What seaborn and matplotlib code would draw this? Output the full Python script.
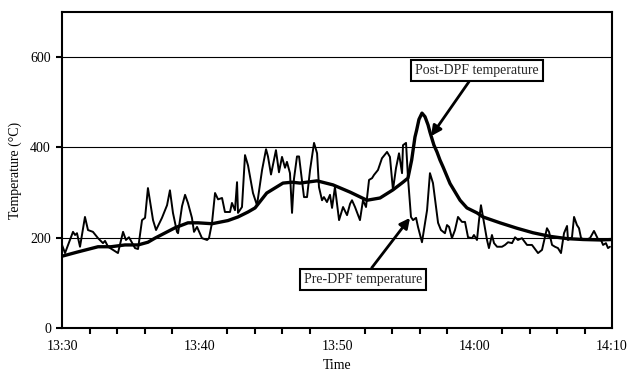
import matplotlib
matplotlib.use("Agg")
import matplotlib.pyplot as plt
from matplotlib.ticker import MultipleLocator
import numpy as np
import pandas as pd
import seaborn as sns

# ---- data (minutes after 13:30, temperature in °C) ----
pre_time = [0.00, 0.22, 0.80, 0.95, 1.09, 1.31, 1.67, 1.89, 2.25, 2.62,
            2.98, 3.13, 3.35, 4.07, 4.44, 4.65, 4.87, 5.31, 5.53, 5.82,
            6.04, 6.25, 6.62, 6.84, 7.27, 7.64, 7.85, 8.07, 8.36, 8.44,
            8.73, 8.95, 9.16, 9.45, 9.60, 9.82, 10.18, 10.55, 10.69, 10.91,
            11.13, 11.35, 11.64, 11.85, 12.22, 12.36, 12.58, 12.73, 12.80, 13.09,
            13.31, 13.53, 13.89, 14.18, 14.55, 14.84, 14.98, 15.20, 15.56, 15.78,
            16.00, 16.22, 16.36, 16.58, 16.73, 16.87, 17.09, 17.24, 17.60, 17.82,
            18.04, 18.33, 18.55, 18.69, 18.91, 19.05, 19.27, 19.49, 19.64, 19.85,
            20.15, 20.44, 20.73, 20.95, 21.09, 21.31, 21.67, 21.89, 22.11, 22.33,
            22.55, 22.69, 22.98, 23.27, 23.64, 23.85, 24.07, 24.29, 24.51, 24.73,
            24.80, 25.02, 25.16, 25.38, 25.53, 25.75, 25.89, 26.18, 26.55, 26.76,
            26.98, 27.35, 27.56, 27.85, 28.00, 28.15, 28.36, 28.58, 28.80, 29.09,
            29.31, 29.53, 29.82, 29.96, 30.18, 30.33, 30.47, 30.62, 30.91, 31.05,
            31.27, 31.42, 31.64, 32.00, 32.22, 32.44, 32.73, 32.95, 33.16, 33.45,
            33.82, 34.18, 34.62, 34.91, 35.27, 35.42, 35.64, 35.85, 36.07, 36.29,
            36.51, 36.73, 36.80, 37.09, 37.24, 37.45, 37.60, 37.75, 38.04, 38.40,
            38.69, 38.98, 39.20, 39.35, 39.56, 39.71, 39.85]
pre_temp = [184, 166, 213, 206, 210, 180, 246, 217, 213, 199,
            188, 193, 180, 166, 213, 195, 201, 177, 175, 239,
            244, 310, 239, 217, 244, 272, 305, 255, 213, 210,
            270, 295, 277, 244, 213, 224, 199, 195, 199, 233,
            299, 285, 288, 257, 257, 277, 261, 323, 255, 268,
            383, 360, 299, 272, 350, 396, 380, 340, 394, 345,
            379, 355, 368, 343, 255, 330, 380, 380, 290, 290,
            350, 410, 387, 312, 283, 290, 279, 295, 266, 312,
            239, 268, 250, 275, 283, 268, 239, 283, 268, 328,
            332, 339, 350, 376, 390, 379, 306, 354, 387, 343,
            405, 410, 334, 246, 239, 244, 224, 190, 261, 343,
            321, 233, 217, 210, 228, 224, 199, 217, 246, 235,
            235, 201, 199, 206, 195, 239, 272, 246, 195, 177,
            206, 188, 180, 180, 184, 190, 188, 201, 195, 199,
            184, 184, 166, 173, 221, 213, 184, 180, 177, 166,
            210, 226, 195, 201, 246, 228, 221, 199, 195, 199,
            215, 197, 195, 184, 188, 177, 180]

post_time = [0, 1.09, 2.62, 3.56, 4.58, 5.53, 6.25, 6.76, 8.22, 9.16,
             9.89, 10.91, 12.07, 12.80, 13.53, 14.04, 14.89, 16.07, 16.73, 17.31,
             18.55, 19.71, 20.95, 22.18, 23.13, 24.07, 24.80, 25.16, 25.43, 25.67,
             25.79, 25.96, 26.18, 26.40, 26.62, 26.76, 27.05, 27.27, 27.49, 27.71,
             28.22, 28.95, 29.45, 30.18, 30.62, 31.85, 33.09, 34.25, 35.49, 36.73,
             37.89, 39.13, 40.00]
post_temp = [159, 168, 180, 180, 184, 184, 190, 199, 222, 233,
             233, 231, 238, 246, 257, 266, 299, 321, 323, 321,
             326, 317, 301, 283, 288, 306, 323, 332, 372, 423,
             438, 462, 476, 468, 450, 434, 405, 390, 372, 357,
             320, 283, 266, 255, 246, 233, 221, 211, 203, 198,
             196, 195, 196]

x_tick_pos = [0, 10, 20, 30, 40]
x_tick_labels = ["13:30", "13:40", "13:50", "14:00", "14:10"]
y_ticks = [0, 200, 400, 600]

pre_df = pd.DataFrame({"time": pre_time, "temp": pre_temp})
post_df = pd.DataFrame({"time": post_time, "temp": post_temp})

# ---- style ----
sns.set_theme(style="white")
plt.rcParams["font.family"] = ["Liberation Serif", "DejaVu Serif"]
plt.rcParams["axes.edgecolor"] = "black"

fig = plt.figure(figsize=(6.37, 3.74), dpi=100)
ax = fig.add_axes([62 / 637, 1 - 328 / 374, 550 / 637, 316 / 374])

for y in [200, 400, 600]:
    ax.axhline(y, color="black", lw=0.8, zorder=1)

sns.lineplot(data=pre_df, x="time", y="temp", ax=ax, color="black",
             lw=1.4, estimator=None, sort=False, zorder=3)
sns.lineplot(data=post_df, x="time", y="temp", ax=ax, color="black",
             lw=2.4, estimator=None, sort=False, zorder=4)

ax.set_xlim(0, 40)
ax.set_ylim(0, 700)
ax.set_xticks(x_tick_pos)
ax.set_xticklabels(x_tick_labels)
ax.xaxis.set_minor_locator(MultipleLocator(2))
ax.set_yticks(y_ticks)

ax.tick_params(axis="both", which="both", direction="out", color="black",
               labelsize=10, labelcolor="black")
ax.tick_params(axis="x", which="major", length=4, width=1.5, pad=5)
ax.tick_params(axis="x", which="minor", length=4, width=1.5, bottom=True)
ax.tick_params(axis="y", which="major", length=4, width=1.5, pad=4, left=True)

for side in ["left", "bottom", "top", "right"]:
    ax.spines[side].set_linewidth(1.5)
    ax.spines[side].set_color("black")

ax.set_xlabel("Time", fontsize=10, color="black", labelpad=4)
ax.set_ylabel("Temperature (°C)", fontsize=10, color="black", labelpad=6)

box = dict(boxstyle="square,pad=0.3", fc="white", ec="black", lw=1.5)
arrow = dict(arrowstyle="-|>", lw=2, color="black", mutation_scale=15,
             shrinkA=0, shrinkB=0)
ax.annotate("Post-DPF temperature", xy=(26.84, 425), xytext=(30.18, 571),
            textcoords="data", ha="center", va="center", fontsize=10,
            bbox=box, arrowprops=arrow, zorder=6)
ax.annotate("Pre-DPF temperature", xy=(25.31, 244), xytext=(21.89, 108),
            textcoords="data", ha="center", va="center", fontsize=10,
            bbox=box, arrowprops=arrow, zorder=6)

fig.savefig("out.png", dpi=100)
